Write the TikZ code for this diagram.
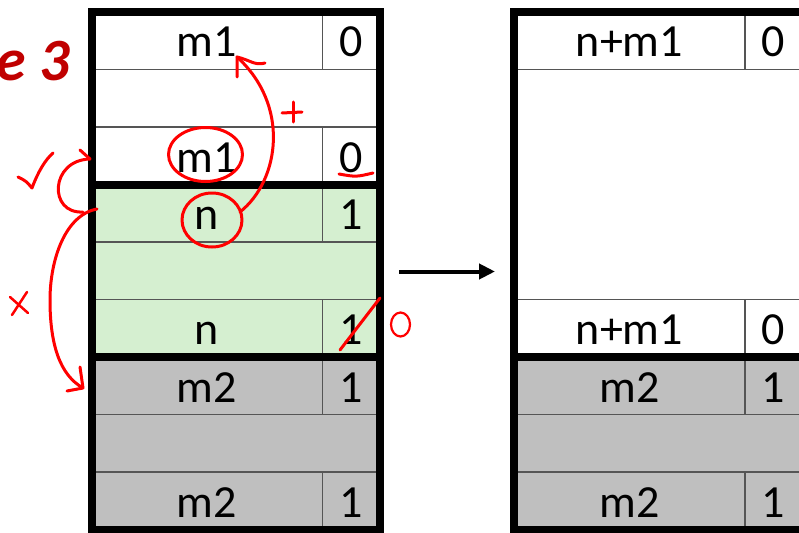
\documentclass[tikz,border=0pt]{standalone}
\usepackage{fontspec}
\setmainfont{Carlito}
\usetikzlibrary{arrows.meta}
\definecolor{cellgreen}{HTML}{D5EFD0}
\definecolor{cellgray}{HTML}{BFBFBF}
\definecolor{inkred}{HTML}{FF0000}
\definecolor{titlered}{HTML}{C00000}
\definecolor{thinline}{HTML}{555555}
\begin{document}
\begin{tikzpicture}[x=1pt,y=-1pt,
  thickborder/.style={line width=8pt,black},
  thinrule/.style={line width=1.4pt,thinline},
  celltext/.style={anchor=base,inner sep=0pt,font=\fontsize{46}{50}\selectfont},
  ink/.style={draw=inkred,line width=3pt,line cap=round,line join=round},
]
\clip (0,0) rectangle (799,532);
\fill[white] (0,0) rectangle (799,532);
% fills
\fill[cellgreen] (92,184.5) rectangle (380,357);
\fill[cellgray] (92,357) rectangle (380,529.5);
\fill[cellgray] (514,357) rectangle (803,529.5);
% thin rules left
\foreach \yy in {69.5,127,242,299.5,414.5,472} \draw[thinrule] (92,\yy) -- (380,\yy);
\foreach \ya/\yb in {12/69.5,127/184.5,184.5/242,299.5/357,357/414.5,472/529.5} \draw[thinrule] (322.5,\ya) -- (322.5,\yb);
% thin rules right
\foreach \yy in {69.5,299.5,414.5,472} \draw[thinrule] (514,\yy) -- (803,\yy);
\foreach \ya/\yb in {12/69.5,299.5/357,357/414.5,472/529.5} \draw[thinrule] (745,\ya) -- (745,\yb);
% thick borders
\draw[thickborder] (92,12) rectangle (380,529.5);
\draw[thickborder] (92,184.5) -- (380,184.5);
\draw[thickborder] (92,357) -- (380,357);
\draw[thickborder] (514,12) rectangle (803,529.5);
\draw[thickborder] (514,357) -- (803,357);
% texts left
\node[celltext] (L0a) at (207,57) {m1};
\node[celltext] (L0b) at (351,57) {0};
\node[celltext] (L2a) at (207,172) {m1};
\node[celltext] (L2b) at (351,172) {0};
\node[celltext] (L3a) at (207,229.5) {n};
\node[celltext] (L3b) at (351,229.5) {1};
\node[celltext] (L5a) at (207,344.5) {n};
\node[celltext] (L5b) at (351,344.5) {1};
\node[celltext] (L6a) at (207,402) {m2};
\node[celltext] (L6b) at (351,402) {1};
\node[celltext] (L8a) at (207,517) {m2};
\node[celltext] (L8b) at (351,517) {1};
% texts right
\node[celltext] (R0a) at (629.5,57) {n+m1};
\node[celltext] (R0b) at (773.5,57) {0};
\node[celltext] (R5a) at (629.5,344.5) {n+m1};
\node[celltext] (R5b) at (773.5,344.5) {0};
\node[celltext] (R6a) at (629.5,402) {m2};
\node[celltext] (R6b) at (773.5,402) {1};
\node[celltext] (R8a) at (629.5,517) {m2};
\node[celltext] (R8b) at (773.5,517) {1};
% black arrow
\coordinate (arrS) at (399,271.5);
\coordinate (arrE) at (495,271.5);
\draw[line width=4pt,-{Triangle[length=16pt,width=15pt]}] (arrS) -- (arrE);
% title fragment
\node[anchor=base west,inner sep=0pt,text=titlered,font=\fontsize{60}{64}\selectfont\bfseries\itshape] (title) at (-4,81) {e 3};
% red annotations
\coordinate (upS) at (240,212);
\coordinate (upE) at (237,57);
\draw[ink] (upS) .. controls (280,180) and (290,105) .. (upE);
\draw[ink] (237,77) -- (upE) .. controls (250,60) and (255,66) .. (265,63);
\draw[ink] (282,113) -- (302,112);
\draw[ink] (293,102) -- (293,122);
\draw[ink] (205.5,154.5) ellipse [x radius=37pt,y radius=27pt];
\draw[ink] (212,220) ellipse [x radius=30pt,y radius=27pt];
\draw[ink] (339,174) .. controls (356,177) .. (373,173);
\draw[ink] (340,350) -- (380,298);
\draw[ink,line width=2.2pt] (400.5,324.5) ellipse [x radius=9.5pt,y radius=12pt];
% check mark
\draw[ink] (18,177) .. controls (26,181) .. (32,188) .. controls (38,172) and (45,160) .. (53,153);
% small curved arrow
\coordinate (smS) at (83,212);
\coordinate (smE) at (90,159);
\draw[ink] (smS) .. controls (48,214) and (50,160) .. (smE);
\draw[ink] (80,150) -- (smE);
% big curved arrow
\coordinate (bgS) at (97,209);
\coordinate (bgM) at (50,300);
\coordinate (bgE) at (83,388);
\draw[ink] (bgS) .. controls (65,215) and (50,260) .. (bgM) .. controls (50,345) and (60,375) .. (bgE);
\draw[ink] (80,367) -- (bgE) -- (67,391);
% cross
\draw[ink,line width=2.5pt] (10,297) -- (28,313);
\draw[ink,line width=2.5pt] (12,315) -- (27,292);
\end{tikzpicture}
\end{document}
